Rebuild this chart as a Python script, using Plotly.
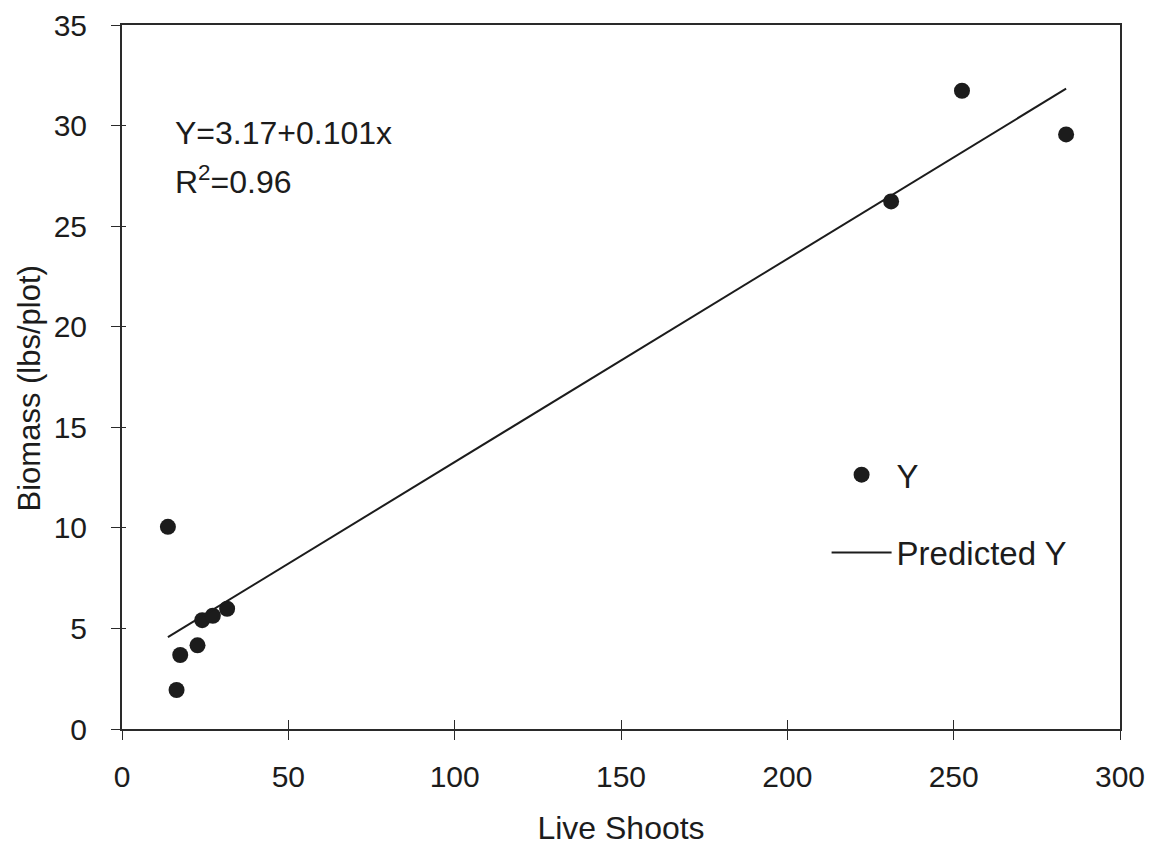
import plotly.graph_objects as go

live_shoots = [13.8, 17.5, 16.4, 22.7, 24.1, 27.3, 31.6, 231.2, 252.5, 283.8]
biomass = [10.05, 3.68, 1.94, 4.16, 5.41, 5.63, 5.98, 26.23, 31.73, 29.56]

# Regression shown on the chart
intercept = 3.17
slope = 0.101
r_squared = 0.96

x_ticks = [0, 50, 100, 150, 200, 250, 300]
y_ticks = [0, 5, 10, 15, 20, 25, 30, 35]

line_x = sorted(live_shoots)
line_y = [intercept + slope * v for v in line_x]

FONT = "Liberation Sans, Arial, sans-serif"
INK = "#1c1c1c"

fig = go.Figure()
fig.add_trace(go.Scatter(
    x=live_shoots, y=biomass, mode="markers", name="Y",
    marker=dict(color=INK, size=16, symbol="circle"),
    legendgroup="a",
))
fig.add_trace(go.Scatter(
    x=line_x, y=line_y, mode="lines", name="Predicted Y",
    line=dict(color=INK, width=2),
    legendgroup="b",
))
# dummy trace for overlay axes (inside tick marks)
fig.add_trace(go.Scatter(x=[None], y=[None], xaxis="x2", yaxis="y2",
                         showlegend=False, hoverinfo="skip"))

axis_common = dict(
    showgrid=False, zeroline=False, showline=True, linecolor="#2a2a2a",
    linewidth=2, mirror=True, ticks="outside", ticklen=9, tickwidth=1,
    tickcolor="#2a2a2a", tickfont=dict(family=FONT, size=30, color=INK),
    ticklabeloverflow="allow", automargin=False,
)

fig.update_layout(
    width=1160, height=847,
    margin=dict(l=114, r=48, t=17, b=126),
    paper_bgcolor="white", plot_bgcolor="white",
    showlegend=True,
    legend=dict(
        x=0.706, y=0.401, xanchor="left", yanchor="top",
        bgcolor="rgba(0,0,0,0)", font=dict(family=FONT, size=33, color=INK),
        tracegroupgap=32, itemwidth=60, traceorder="grouped",
    ),
    xaxis=dict(range=[0, 300], tickvals=x_ticks, ticklabelstandoff=11,
               title=dict(text="Live Shoots", font=dict(family=FONT, size=32, color=INK),
                          standoff=25),
               **axis_common),
    yaxis=dict(range=[0, 35.0001], tickvals=y_ticks, ticklabelstandoff=18,
               **axis_common),
    xaxis2=dict(overlaying="x", matches="x", range=[0, 300], tickvals=x_ticks,
                ticks="inside", ticklen=9, tickcolor="#2a2a2a", showticklabels=False,
                showgrid=False, zeroline=False, showline=False, side="bottom",
                automargin=False),
    yaxis2=dict(overlaying="y", matches="y", range=[0, 35.0001], tickvals=y_ticks,
                ticks="inside", ticklen=4, tickcolor="#2a2a2a", showticklabels=False,
                showgrid=False, zeroline=False, showline=False, side="left",
                automargin=False),
    annotations=[
        dict(text="Biomass (lbs/plot)", textangle=-90, xref="paper", yref="paper",
             x=-0.093, y=0.484, xanchor="center", yanchor="middle", showarrow=False,
             font=dict(family=FONT, size=31, color=INK)),
        dict(text=f"Y={intercept}+{slope}x", xref="x", yref="y", x=15.3, y=29.63,
             xanchor="left", yanchor="middle", showarrow=False,
             font=dict(family=FONT, size=32, color=INK)),
        dict(text=f"R<sup>2</sup>={r_squared}", xref="x", yref="y", x=15.3, y=27.29,
             xanchor="left", yanchor="middle", showarrow=False,
             font=dict(family=FONT, size=32, color=INK)),
    ],
)

fig.write_html("out.html")
